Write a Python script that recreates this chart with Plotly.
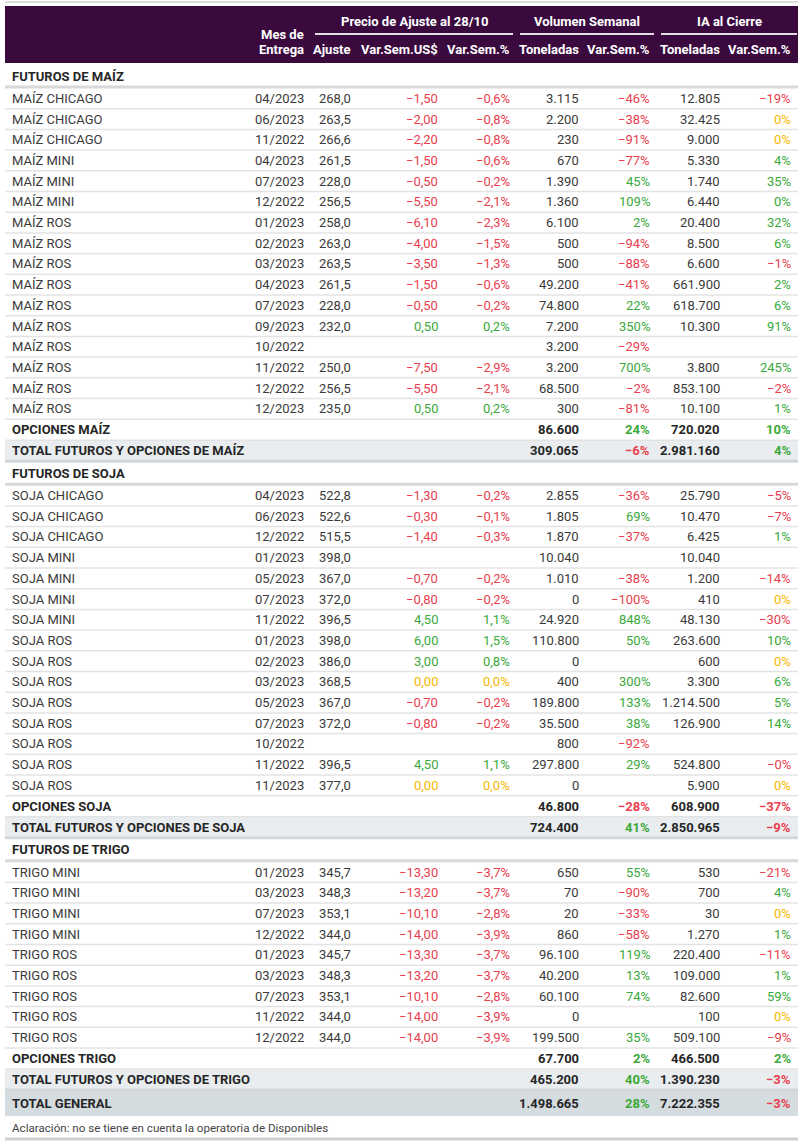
import plotly.graph_objects as go

# ── Data ──────────────────────────────────────────────────────────────────────
kind = (["sec"] + ["row"] * 16 + ["opc", "tot"]
        + ["sec"] + ["row"] * 15 + ["opc", "tot"]
        + ["sec"] + ["row"] * 9 + ["opc", "tot", "gen"])

names = [
    "FUTUROS DE MAÍZ",
    "MAÍZ CHICAGO", "MAÍZ CHICAGO", "MAÍZ CHICAGO", "MAÍZ MINI", "MAÍZ MINI", "MAÍZ MINI",
    "MAÍZ ROS", "MAÍZ ROS", "MAÍZ ROS", "MAÍZ ROS", "MAÍZ ROS", "MAÍZ ROS", "MAÍZ ROS",
    "MAÍZ ROS", "MAÍZ ROS", "MAÍZ ROS",
    "OPCIONES MAÍZ", "TOTAL FUTUROS Y OPCIONES DE MAÍZ",
    "FUTUROS DE SOJA",
    "SOJA CHICAGO", "SOJA CHICAGO", "SOJA CHICAGO", "SOJA MINI", "SOJA MINI", "SOJA MINI",
    "SOJA MINI", "SOJA ROS", "SOJA ROS", "SOJA ROS", "SOJA ROS", "SOJA ROS", "SOJA ROS",
    "SOJA ROS", "SOJA ROS",
    "OPCIONES SOJA", "TOTAL FUTUROS Y OPCIONES DE SOJA",
    "FUTUROS DE TRIGO",
    "TRIGO MINI", "TRIGO MINI", "TRIGO MINI", "TRIGO MINI", "TRIGO ROS", "TRIGO ROS",
    "TRIGO ROS", "TRIGO ROS", "TRIGO ROS",
    "OPCIONES TRIGO", "TOTAL FUTUROS Y OPCIONES DE TRIGO",
    "TOTAL GENERAL",
]

mes = [
    "",
    "04/2023", "06/2023", "11/2022", "04/2023", "07/2023", "12/2022", "01/2023", "02/2023",
    "03/2023", "04/2023", "07/2023", "09/2023", "10/2022", "11/2022", "12/2022", "12/2023",
    "", "",
    "",
    "04/2023", "06/2023", "12/2022", "01/2023", "05/2023", "07/2023", "11/2022", "01/2023",
    "02/2023", "03/2023", "05/2023", "07/2023", "10/2022", "11/2022", "11/2023",
    "", "",
    "",
    "01/2023", "03/2023", "07/2023", "12/2022", "01/2023", "03/2023", "07/2023", "11/2022",
    "12/2022",
    "", "", "",
]

ajuste = [
    "",
    "268,0", "263,5", "266,6", "261,5", "228,0", "256,5", "258,0", "263,0", "263,5", "261,5",
    "228,0", "232,0", "", "250,0", "256,5", "235,0",
    "", "",
    "",
    "522,8", "522,6", "515,5", "398,0", "367,0", "372,0", "396,5", "398,0", "386,0", "368,5",
    "367,0", "372,0", "", "396,5", "377,0",
    "", "",
    "",
    "345,7", "348,3", "353,1", "344,0", "345,7", "348,3", "353,1", "344,0", "344,0",
    "", "", "",
]

var_usd = [
    "",
    "−1,50", "−2,00", "−2,20", "−1,50", "−0,50", "−5,50", "−6,10", "−4,00", "−3,50", "−1,50",
    "−0,50", "0,50", "", "−7,50", "−5,50", "0,50",
    "", "",
    "",
    "−1,30", "−0,30", "−1,40", "", "−0,70", "−0,80", "4,50", "6,00", "3,00", "0,00",
    "−0,70", "−0,80", "", "4,50", "0,00",
    "", "",
    "",
    "−13,30", "−13,20", "−10,10", "−14,00", "−13,30", "−13,20", "−10,10", "−14,00", "−14,00",
    "", "", "",
]

var_pct = [
    "",
    "−0,6%", "−0,8%", "−0,8%", "−0,6%", "−0,2%", "−2,1%", "−2,3%", "−1,5%", "−1,3%", "−0,6%",
    "−0,2%", "0,2%", "", "−2,9%", "−2,1%", "0,2%",
    "", "",
    "",
    "−0,2%", "−0,1%", "−0,3%", "", "−0,2%", "−0,2%", "1,1%", "1,5%", "0,8%", "0,0%",
    "−0,2%", "−0,2%", "", "1,1%", "0,0%",
    "", "",
    "",
    "−3,7%", "−3,7%", "−2,8%", "−3,9%", "−3,7%", "−3,7%", "−2,8%", "−3,9%", "−3,9%",
    "", "", "",
]

vol_ton = [
    "",
    "3.115", "2.200", "230", "670", "1.390", "1.360", "6.100", "500", "500", "49.200",
    "74.800", "7.200", "3.200", "3.200", "68.500", "300",
    "86.600", "309.065",
    "",
    "2.855", "1.805", "1.870", "10.040", "1.010", "0", "24.920", "110.800", "0", "400",
    "189.800", "35.500", "800", "297.800", "0",
    "46.800", "724.400",
    "",
    "650", "70", "20", "860", "96.100", "40.200", "60.100", "0", "199.500",
    "67.700", "465.200", "1.498.665",
]

vol_pct = [
    "",
    "−46%", "−38%", "−91%", "−77%", "45%", "109%", "2%", "−94%", "−88%", "−41%",
    "22%", "350%", "−29%", "700%", "−2%", "−81%",
    "24%", "−6%",
    "",
    "−36%", "69%", "−37%", "", "−38%", "−100%", "848%", "50%", "", "300%",
    "133%", "38%", "−92%", "29%", "",
    "−28%", "41%",
    "",
    "55%", "−90%", "−33%", "−58%", "119%", "13%", "74%", "", "35%",
    "2%", "40%", "28%",
]

ia_ton = [
    "",
    "12.805", "32.425", "9.000", "5.330", "1.740", "6.440", "20.400", "8.500", "6.600",
    "661.900", "618.700", "10.300", "", "3.800", "853.100", "10.100",
    "720.020", "2.981.160",
    "",
    "25.790", "10.470", "6.425", "10.040", "1.200", "410", "48.130", "263.600", "600",
    "3.300", "1.214.500", "126.900", "", "524.800", "5.900",
    "608.900", "2.850.965",
    "",
    "530", "700", "30", "1.270", "220.400", "109.000", "82.600", "100", "509.100",
    "466.500", "1.390.230", "7.222.355",
]

# "+0%" = rounded to zero from a positive change, shown as "0%"
ia_pct = [
    "",
    "−19%", "0%", "0%", "4%", "35%", "+0%", "32%", "6%", "−1%", "2%",
    "6%", "91%", "", "245%", "−2%", "1%",
    "10%", "4%",
    "",
    "−5%", "−7%", "1%", "", "−14%", "0%", "−30%", "10%", "0%", "6%",
    "5%", "14%", "", "−0%", "0%",
    "−37%", "−9%",
    "",
    "−21%", "4%", "0%", "1%", "−11%", "1%", "59%", "0%", "−9%",
    "2%", "−3%", "−3%",
]

group_titles = ["Precio de Ajuste al 28/10", "Volumen Semanal", "IA al Cierre"]
sub_titles = ["Ajuste", "Var.Sem.US$", "Var.Sem.%", "Toneladas", "Var.Sem.%",
              "Toneladas", "Var.Sem.%"]
footnote = "Aclaración: no se tiene en cuenta la operatoria de Disponibles"

# ── Style ─────────────────────────────────────────────────────────────────────
FONT = "Roboto, Arial, sans-serif"
PURPLE = "#3a0a3f"
TEXT = "#3a3a3a"
RED = "#e8404e"
GREEN = "#3aa93a"
YELLOW = "#f5b800"

W, H = 800, 1145
LEFT, RIGHT = 5, 798
HEIGHTS = {"sec": 24, "row": 20.7, "opc": 21, "tot": 21, "gen": 26}

# right edges of the value columns (after the name and mes columns)
col_right = [353, 440, 512, 581, 652, 722, 793]
mes_right = 306
group_spans = [(315, 513), (520, 654), (661, 797)]


def sign_color(s):
    if s.startswith("−"):
        return RED
    if s.startswith("+"):
        return GREEN
    if s in ("0%", "0,00", "0,0%"):
        return YELLOW
    return GREEN


fig = go.Figure()
shapes = []
ann = []


def text(x, y, s, anchor="right", size=13, color=TEXT, bold=False):
    ann.append(dict(
        x=x, y=y, xref="x", yref="y", text=f"<b>{s}</b>" if bold else s,
        showarrow=False, xanchor=anchor, yanchor="middle",
        font=dict(family=FONT, size=size, color=color),
    ))


def hline(y, width, color):
    shapes.append(dict(type="line", xref="x", yref="y", x0=LEFT, x1=RIGHT,
                       y0=y, y1=y, line=dict(color=color, width=width)))


# ── Header ────────────────────────────────────────────────────────────────────
hline(2, 2, "#dcdcdc")
shapes.append(dict(type="rect", xref="x", yref="y", x0=LEFT, x1=RIGHT, y0=6, y1=63,
                   fillcolor=PURPLE, line=dict(width=0), layer="below"))
text(mes_right, 34, "Mes de", bold=True, color="white")
text(mes_right, 49, "Entrega", bold=True, color="white")
for title, (a, b) in zip(group_titles, group_spans):
    text((a + b) / 2, 21, title, anchor="center", bold=True, color="white")
    shapes.append(dict(type="line", xref="x", yref="y", x0=a, x1=b, y0=34, y1=34,
                       line=dict(color="#e4dde5", width=2)))
for x, s in zip(col_right, sub_titles):
    text(x, 49, s, bold=True, color="white")

# ── Body ──────────────────────────────────────────────────────────────────────
y = 64
for i, k in enumerate(kind):
    h = HEIGHTS[k]
    yc = y + h / 2
    if k == "tot":
        shapes.append(dict(type="rect", xref="x", yref="y", x0=LEFT, x1=RIGHT, y0=y, y1=y + h,
                           fillcolor="#e9edf0", line=dict(width=0), layer="below"))
        hline(y + h, 3, "#d2d6d9")
    elif k == "gen":
        shapes.append(dict(type="rect", xref="x", yref="y", x0=LEFT, x1=RIGHT,
                           y0=y + 1, y1=y + h, fillcolor="#d5dce0", line=dict(width=0),
                           layer="below"))
    elif k == "sec":
        hline(y + h - 1, 3, "#d9d9d9")
    else:
        hline(y + h, 1.5, "#e3e3e3")

    bold = k != "row"
    dark = "#262626" if bold else TEXT
    text(10, yc, names[i], anchor="left", bold=bold, color=dark)
    if mes[i]:
        text(mes_right, yc, mes[i])
    values = [ajuste[i], var_usd[i], var_pct[i], vol_ton[i], vol_pct[i], ia_ton[i], ia_pct[i]]
    signed = [False, True, True, False, True, False, True]
    for x, s, sg in zip(col_right, values, signed):
        if not s:
            continue
        c = sign_color(s) if sg else dark
        text(x, yc, s.lstrip("+"), color=c, bold=bold)
    y += h

text(10, 1128, footnote, anchor="left", size=11.6, color="#444444")
hline(1139, 3, "#cfcfcf")

fig.update_layout(
    width=W, height=H,
    margin=dict(l=0, r=0, t=0, b=0),
    paper_bgcolor="white", plot_bgcolor="white",
    xaxis=dict(range=[0, W], visible=False, fixedrange=True),
    yaxis=dict(range=[H, 0], visible=False, fixedrange=True),
    shapes=shapes, annotations=ann,
    showlegend=False,
)

# the page's default 8px body margin would push the table off the window
fig.write_html("out.html", config={"displayModeBar": False},
               post_script="document.body.style.margin='0';")
